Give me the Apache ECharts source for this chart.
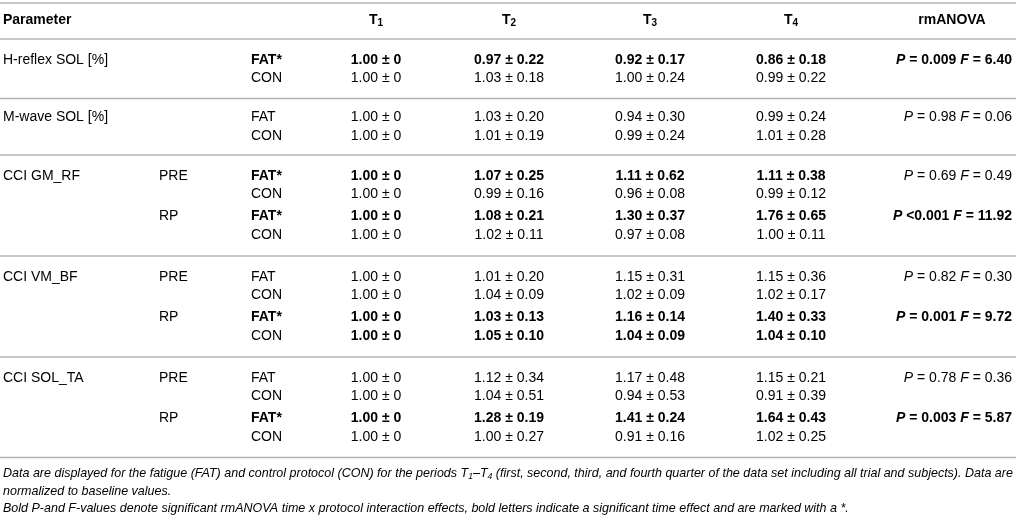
<!DOCTYPE html>
<html>
<head>
<meta charset="utf-8">
<script src="https://cdn.jsdelivr.net/npm/echarts@6/dist/echarts.min.js"></script>
<style>
  html, body { margin: 0; padding: 0; background: #fff; }
  #chart { width: 1016px; height: 517px; }
</style>
</head>
<body>
<div id="chart"></div>
<script>
// table data (one entry per table line)
var parameters = ['H-reflex SOL [%]', '', 'M-wave SOL [%]', '', 'CCI GM_RF', '', '', '', 'CCI VM_BF', '', '', '', 'CCI SOL_TA', '', '', ''];
var phases = ['', '', '', '', 'PRE', '', 'RP', '', 'PRE', '', 'RP', '', 'PRE', '', 'RP', ''];
var protocols = ['FAT*', 'CON', 'FAT', 'CON', 'FAT*', 'CON', 'FAT*', 'CON', 'FAT', 'CON', 'FAT*', 'CON', 'FAT', 'CON', 'FAT*', 'CON'];
var boldValues = [true, false, false, false, true, false, true, false, false, false, true, true, false, false, true, false];

var periods = ['1', '2', '3', '4'];
var t1Mean = [1.00, 1.00, 1.00, 1.00, 1.00, 1.00, 1.00, 1.00, 1.00, 1.00, 1.00, 1.00, 1.00, 1.00, 1.00, 1.00];
var t1Sd   = [0, 0, 0, 0, 0, 0, 0, 0, 0, 0, 0, 0, 0, 0, 0, 0];
var t2Mean = [0.97, 1.03, 1.03, 1.01, 1.07, 0.99, 1.08, 1.02, 1.01, 1.04, 1.03, 1.05, 1.12, 1.04, 1.28, 1.00];
var t2Sd   = [0.22, 0.18, 0.20, 0.19, 0.25, 0.16, 0.21, 0.11, 0.20, 0.09, 0.13, 0.10, 0.34, 0.51, 0.19, 0.27];
var t3Mean = [0.92, 1.00, 0.94, 0.99, 1.11, 0.96, 1.30, 0.97, 1.15, 1.02, 1.16, 1.04, 1.17, 0.94, 1.41, 0.91];
var t3Sd   = [0.17, 0.24, 0.30, 0.24, 0.62, 0.08, 0.37, 0.08, 0.31, 0.09, 0.14, 0.09, 0.48, 0.53, 0.24, 0.16];
var t4Mean = [0.86, 0.99, 0.99, 1.01, 1.11, 0.99, 1.76, 1.00, 1.15, 1.02, 1.40, 1.04, 1.15, 0.91, 1.64, 1.02];
var t4Sd   = [0.18, 0.22, 0.24, 0.28, 0.38, 0.12, 0.65, 0.11, 0.36, 0.17, 0.33, 0.10, 0.21, 0.39, 0.43, 0.25];

// rmANOVA results, one per FAT line
var anovaLine = [0, 2, 4, 6, 8, 10, 12, 14];
var anovaP = ['= 0.009', '= 0.98', '= 0.69', '<0.001', '= 0.82', '= 0.001', '= 0.78', '= 0.003'];
var anovaF = ['6.40', '0.06', '0.49', '11.92', '0.30', '9.72', '0.36', '5.87'];
var anovaSig = [true, false, false, true, false, true, false, true];

// layout (page pixels)
var colParam = 3, colPhase = 159, colProt = 251;
var colT = [376, 509, 650, 791];
var colAnovaRight = 1012, colAnovaHead = 952;
var headerY = 20;
var lineY = [60, 78.5, 117.5, 136, 176, 194.5, 216.5, 235, 277, 295.5, 317.5, 336, 378, 396.5, 418.5, 437];
var ruleY = [3, 39, 98.5, 155, 256, 357, 457.5];

var FONT = '"Liberation Sans", Arial, sans-serif';
var DARK = '#151515', GREY = '#3c3c3c';

var means = [t1Mean, t2Mean, t3Mean, t4Mean];
var sds = [t1Sd, t2Sd, t3Sd, t4Sd];

function fmtSd(v) { return v === 0 ? '0' : v.toFixed(2); }

var richBase = {
  n:  { fontFamily: FONT, fontSize: 14, color: GREY },
  b:  { fontFamily: FONT, fontSize: 14, fontWeight: 'bold', color: DARK },
  i:  { fontFamily: FONT, fontSize: 14, fontStyle: 'italic', color: GREY },
  bi: { fontFamily: FONT, fontSize: 14, fontStyle: 'italic', fontWeight: 'bold', color: DARK },
  ht: { fontFamily: FONT, fontSize: 14, fontWeight: 'bold', color: DARK, lineHeight: 16 },
  hs: { fontFamily: FONT, fontSize: 10, fontWeight: 'bold', color: DARK, lineHeight: 10, verticalAlign: 'bottom' }
};

// build table cells
var cells = [];
function addCell(x, y, text, align) { cells.push({ x: x, y: y, text: text, align: align }); }

addCell(colParam, headerY, '{b|Parameter}', 'left');
periods.forEach(function (p, k) { addCell(colT[k], headerY, '{ht|T}{hs|' + p + '}', 'center'); });
addCell(colAnovaHead, headerY, '{b|rmANOVA}', 'center');

for (var r = 0; r < protocols.length; r++) {
  var y = lineY[r];
  if (parameters[r]) addCell(colParam, y, '{n|' + parameters[r] + '}', 'left');
  if (phases[r]) addCell(colPhase, y, '{n|' + phases[r] + '}', 'left');
  addCell(colProt, y, (protocols[r].indexOf('*') >= 0 ? '{b|' : '{n|') + protocols[r] + '}', 'left');
  var st = boldValues[r] ? 'b' : 'n';
  for (var k = 0; k < 4; k++) {
    addCell(colT[k], y, '{' + st + '|' + means[k][r].toFixed(2) + ' \u00b1 ' + fmtSd(sds[k][r]) + '}', 'center');
  }
}
anovaLine.forEach(function (r, j) {
  var it = anovaSig[j] ? 'bi' : 'i', tx = anovaSig[j] ? 'b' : 'n';
  addCell(colAnovaRight, lineY[r],
    '{' + it + '|P}{' + tx + '| ' + anovaP[j] + ' }{' + it + '|F}{' + tx + '| = ' + anovaF[j] + '}', 'right');
});

// footnote, squeezed to the table width
var note1a = 'Data are displayed for the fatigue (FAT) and control protocol (CON) for the periods ';
var note1b = ' (first, second, third, and fourth quarter of the data set including all trial and subjects). Data are';
var note2 = 'normalized to baseline values.';
var note3 = 'Bold P-and F-values denote significant rmANOVA time x protocol interaction effects, bold letters indicate a significant time effect and are marked with a *.';
var noteSize = 13;
var ctx = document.createElement('canvas').getContext('2d');
ctx.font = 'italic ' + noteSize + 'px ' + FONT;
var noteW = ctx.measureText(note1a + 'T' + note1b).width + ctx.measureText('4\u20134').width * 0.75 + ctx.measureText('T').width;
var noteScale = Math.min(1, 1009 / noteW);
var noteRich = {
  i:  { fontFamily: FONT, fontSize: noteSize, fontStyle: 'italic', color: '#333', lineHeight: 15 },
  s:  { fontFamily: FONT, fontSize: 9, fontStyle: 'italic', color: '#333', lineHeight: 9, verticalAlign: 'bottom' }
};
function noteText(y, text) {
  return {
    type: 'text', x: 3, y: y, scaleX: noteScale, originX: 0,
    style: { text: text, rich: noteRich, verticalAlign: 'middle', align: 'left' }
  };
}

var chart = echarts.init(document.getElementById('chart'), null, { renderer: 'canvas' });
chart.setOption({
  backgroundColor: '#fff',
  animation: false,
  grid: { left: 0, right: 0, top: 0, bottom: 0 },
  xAxis: { type: 'value', min: 0, max: 1016, show: false },
  yAxis: { type: 'value', min: 0, max: 517, inverse: true, show: false },
  series: [
    {
      type: 'custom',
      data: ruleY.map(function (v) { return [0, v]; }),
      renderItem: function (params, api) {
        var a = api.coord([0, api.value(1)]);
        var b = api.coord([1016, api.value(1)]);
        return { type: 'line', shape: { x1: a[0], y1: a[1], x2: b[0], y2: b[1] },
                 style: { stroke: '#b4b4b4', lineWidth: 1.5 } };
      }
    },
    {
      type: 'custom',
      data: cells.map(function (c) { return [c.x, c.y]; }),
      renderItem: function (params, api) {
        var c = cells[params.dataIndex];
        var p = api.coord([api.value(0), api.value(1)]);
        return { type: 'text', x: p[0], y: p[1],
                 style: { text: c.text, rich: richBase, align: c.align, verticalAlign: 'middle' } };
      }
    }
  ],
  graphic: [
    noteText(473, '{i|' + note1a + 'T}{s|1}{i|\u2013T}{s|4}{i|' + note1b + '}'),
    noteText(491, '{i|' + note2 + '}'),
    noteText(508, '{i|' + note3 + '}')
  ]
});
</script>
</body>
</html>
